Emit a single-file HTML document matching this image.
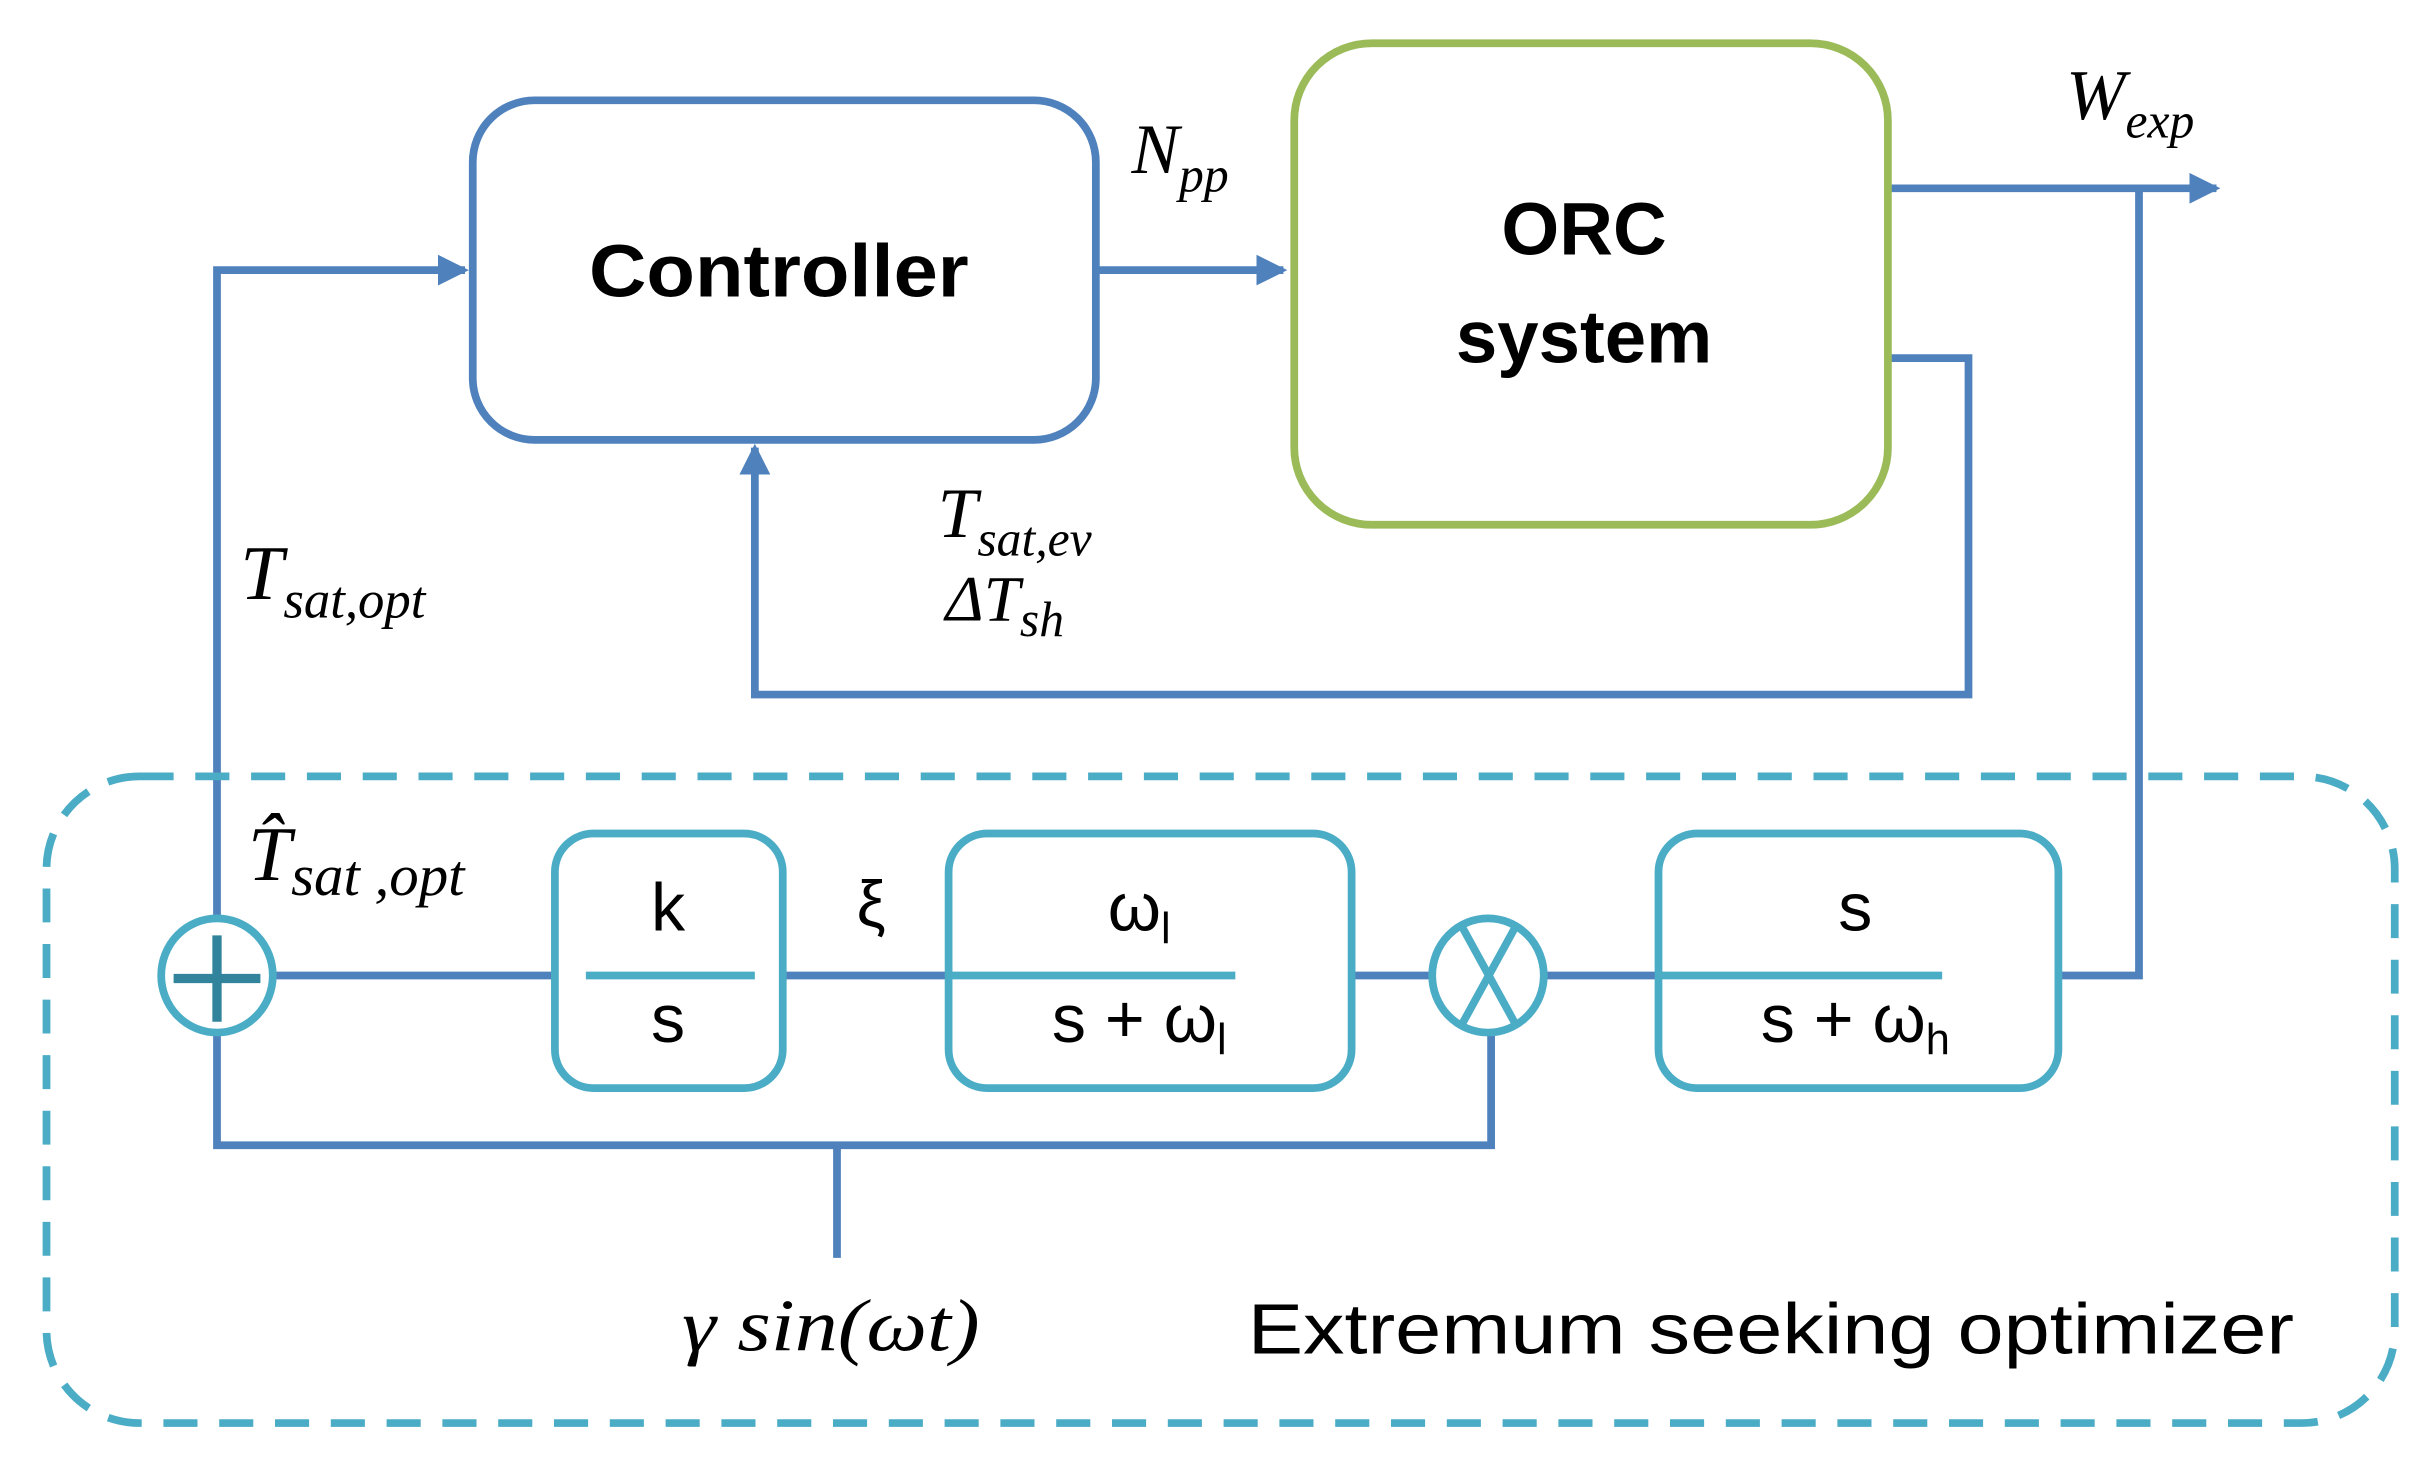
<!DOCTYPE html>
<html><head><meta charset="utf-8"><style>
html,body{margin:0;padding:0;background:#fff;}
svg{display:block;}
text{font-family:"Liberation Sans",sans-serif;fill:#000;}
.it{font-style:italic;font-family:"Liberation Serif",serif;}
</style></head><body>
<svg width="2418" height="1474" viewBox="0 0 1560 955" preserveAspectRatio="none" xmlns="http://www.w3.org/2000/svg">
<defs>
<marker id="ah" markerWidth="4" markerHeight="4" refX="3.5" refY="2" orient="auto" markerUnits="strokeWidth">
<path d="M0,0 L4,2 L0,4 z" fill="#4f81bd"/>
</marker>
</defs>
<g fill="none" stroke="#4f81bd" stroke-width="5">
<rect x="305" y="65" width="402" height="220" rx="40"/>
<polyline points="140,595 140,175 300,175" marker-end="url(#ah)"/>
<line x1="707" y1="175" x2="828" y2="175" marker-end="url(#ah)"/>
<line x1="1218" y1="122" x2="1430" y2="122" marker-end="url(#ah)"/>
<polyline points="1380,122 1380,632 1328,632"/>
<polyline points="1218,232 1270,232 1270,450 487,450 487,290" marker-end="url(#ah)"/>
<line x1="177" y1="632" x2="358" y2="632"/>
<line x1="505" y1="632" x2="612" y2="632"/>
<line x1="872" y1="632" x2="923" y2="632"/>
<line x1="997" y1="632" x2="1070" y2="632"/>
<polyline points="140,669 140,742 962,742 962,669"/>
<line x1="540" y1="742" x2="540" y2="815"/>
</g>
<rect x="835" y="28" width="383" height="312" rx="50" fill="none" stroke="#9bbb59" stroke-width="5"/>
<rect x="30" y="503" width="1515" height="419" rx="60" fill="none" stroke="#4bacc6" stroke-width="5" stroke-dasharray="22,14"/>
<g fill="none" stroke="#4bacc6" stroke-width="5">
<rect x="358" y="540" width="147" height="165" rx="25" fill="#fff"/>
<rect x="612" y="540" width="260" height="165" rx="25" fill="#fff"/>
<rect x="1070" y="540" width="258" height="165" rx="25" fill="#fff"/>
<line x1="378" y1="632" x2="487" y2="632"/>
<line x1="612" y1="632" x2="797" y2="632"/>
<line x1="1070" y1="632" x2="1253" y2="632"/>
<ellipse cx="140" cy="632" rx="36" ry="37" fill="#fff"/>
<ellipse cx="960" cy="632" rx="36" ry="37" fill="#fff"/>
<line x1="943" y1="600" x2="978" y2="664"/>
<line x1="978" y1="600" x2="943" y2="664"/>
</g>
<g stroke="#31849b" stroke-width="6">
<line x1="112" y1="634" x2="168" y2="634"/>
<line x1="140" y1="606" x2="140" y2="662"/>
</g>
<text x="380" y="192" font-size="48" font-weight="bold" textLength="245" lengthAdjust="spacingAndGlyphs">Controller</text>
<text x="1022" y="165" font-size="48" font-weight="bold" text-anchor="middle">ORC</text>
<text x="1022" y="235" font-size="48" font-weight="bold" text-anchor="middle">system</text>
<text x="730" y="112" font-size="46" class="it">N<tspan font-size="32" dy="12">pp</tspan></text>
<text x="1333" y="77" font-size="46" class="it">W<tspan font-size="32" dy="12">exp</tspan></text>
<text x="605" y="348" font-size="46" class="it">T<tspan font-size="32" dy="12">sat,ev</tspan></text>
<text x="610" y="402" font-size="42" class="it">ΔT<tspan font-size="32" dy="10">sh</tspan></text>
<text x="155" y="388" font-size="50" class="it">T<tspan font-size="34" dy="12">sat,opt</tspan></text>
<text x="160" y="570" font-size="50" class="it">T̂<tspan font-size="38" dy="10">sat ,opt</tspan></text>
<text x="431" y="603" font-size="44" text-anchor="middle">k</text>
<text x="431" y="675" font-size="44" text-anchor="middle">s</text>
<text x="562" y="600" font-size="42" text-anchor="middle">ξ</text>
<text x="735" y="603" font-size="44" text-anchor="middle">ω<tspan font-size="28" dy="8">l</tspan></text>
<text x="735" y="675" font-size="44" text-anchor="middle">s + ω<tspan font-size="28" dy="8">l</tspan></text>
<text x="1197" y="603" font-size="44" text-anchor="middle">s</text>
<text x="1197" y="675" font-size="44" text-anchor="middle">s + ω<tspan font-size="28" dy="8">h</tspan></text>
<text x="440" y="875" font-size="48" class="it" textLength="192" lengthAdjust="spacingAndGlyphs">γ sin(ωt)</text>
<text x="805" y="877" font-size="46" textLength="675" lengthAdjust="spacingAndGlyphs">Extremum seeking optimizer</text>
</svg>
</body></html>
